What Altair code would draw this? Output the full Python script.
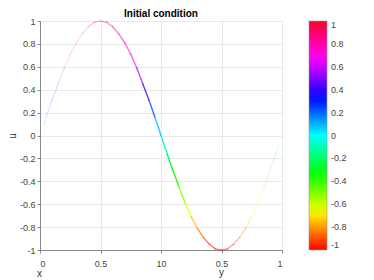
import altair as alt
import pandas as pd

# curve samples (x position, u value)
x_vals = [0.015, 0.025, 0.05, 0.075, 0.1, 0.125, 0.15, 0.175, 0.2, 0.225, 0.25,
          0.275, 0.3, 0.325, 0.35, 0.375, 0.4, 0.425, 0.45, 0.475, 0.5,
          0.525, 0.55, 0.575, 0.6, 0.625, 0.65, 0.675, 0.7, 0.725, 0.75,
          0.775, 0.8, 0.825, 0.85, 0.875, 0.9, 0.925, 0.95, 0.975, 0.99]
u_vals = [0.09, 0.16, 0.31, 0.45, 0.59, 0.71, 0.81, 0.89, 0.95, 0.99, 1.00,
          0.99, 0.95, 0.89, 0.81, 0.71, 0.59, 0.45, 0.31, 0.16, 0.00,
          -0.16, -0.31, -0.45, -0.59, -0.71, -0.81, -0.89, -0.95, -0.99, -1.00,
          -0.99, -0.95, -0.89, -0.81, -0.71, -0.59, -0.45, -0.31, -0.16, -0.06]

x_tick_values = [0, 0.25, 0.5, 0.75, 1]
x_tick_labels = ["0", "0.5", "10", "0.5", "1"]
u_ticks = [-1, -0.8, -0.6, -0.4, -0.2, 0, 0.2, 0.4, 0.6, 0.8, 1]

cmap_stops = [-1, -0.6667, -0.3333, 0, 0.3333, 0.6667, 1]
cmap_colors = ["#ff0000", "#ffff00", "#00ff00", "#00ffff", "#0000ff", "#ff00ff", "#ff0030"]

title_text = "Initial condition"

segs = pd.DataFrame({
    "x": x_vals[:-1],
    "x2": x_vals[1:],
    "u": u_vals[:-1],
    "u2": u_vals[1:],
})
segs["uc"] = (segs["u"] + segs["u2"]) / 2

label_expr = " : ".join(
    f"datum.value == {v} ? '{l}'" for v, l in zip(x_tick_values, x_tick_labels)
) + " : ''"
num_expr = "replace(format(datum.value, ''), '\u2212', '-')"

W, H = 242, 229
FONT = "Liberation Sans"

xscale = alt.Scale(domain=[0, 1], nice=False, zero=False)
yscale = alt.Scale(domain=[-1, 1], nice=False, zero=False)

curve = alt.Chart(segs).transform_calculate(
    op="max(0.13, min(1, 1 - abs((datum.x + datum.x2) / 2 - 0.54) * 2.4))"
).mark_rule(strokeWidth=1.4, strokeCap="round").encode(
    x=alt.X("x:Q", scale=xscale,
            axis=alt.Axis(values=x_tick_values, labelExpr=label_expr, title="x",
                          titleX=-3.5, titleY=18.5, titleAlign="left",
                          titleBaseline="top",
                          titleFontWeight="normal", titleFontSize=10,
                          grid=True, tickSize=3, labelPadding=6)),
    x2="x2:Q",
    y=alt.Y("u:Q", scale=yscale,
            axis=alt.Axis(values=u_ticks, title="u", titleX=-23, titleY=H / 2,
                          titleBaseline="bottom", titleAlign="center",
                          titleFontWeight="normal", titleFontSize=10,
                          labelExpr=num_expr,
                          grid=True, tickSize=3)),
    y2="u2:Q",
    color=alt.Color("uc:Q",
                    scale=alt.Scale(domain=cmap_stops, range=cmap_colors, interpolate="rgb"),
                    legend=alt.Legend(orient="none", legendX=269, legendY=0,
                                      direction="vertical", title=None, padding=0,
                                      gradientLength=H, gradientThickness=18,
                                      values=u_ticks, labelExpr=num_expr,
                                      gradientStrokeColor="#999", gradientStrokeWidth=0.6,
                                      labelFontSize=9, labelColor="#444", labelFont=FONT,
                                      labelOffset=4)),
    opacity=alt.Opacity("op:Q", scale=None),
)

ylab = alt.Chart(pd.DataFrame({"t": ["y"]})).mark_text(
    font=FONT, fontSize=10, color="#333", align="center", baseline="alphabetic"
).encode(x=alt.datum(0.75, scale=xscale), y=alt.value(H + 26), text="t:N")

ttl = alt.Chart(pd.DataFrame({"t": [title_text]})).mark_text(
    font=FONT, fontSize=10, fontWeight="bold", color="#000",
    align="center", baseline="alphabetic"
).encode(x=alt.value(W / 2), y=alt.value(-4), text="t:N")

chart = alt.layer(curve, ylab, ttl).properties(
    width=W, height=H,
    autosize=alt.AutoSizeParams(type="none"),
    padding={"left": 32, "top": 13, "right": 80, "bottom": 30},
).configure_view(stroke=None).configure_axis(
    labelFont=FONT, titleFont=FONT, labelFontSize=9, labelColor="#444",
    titleColor="#333", gridColor="#e8e8e8", domainColor="#888",
    tickColor="#888", domainWidth=1,
)

chart.save("out.html", embed_options={"renderer": "svg", "actions": False})
